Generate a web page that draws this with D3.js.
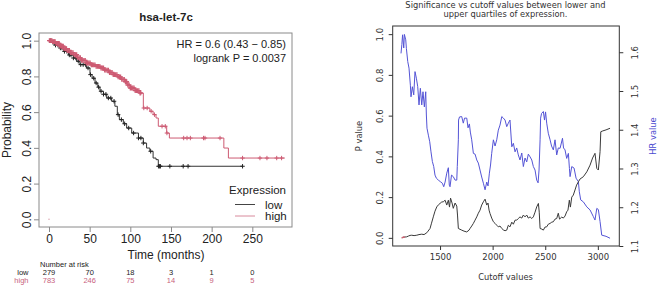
<!DOCTYPE html>
<html><head><meta charset="utf-8">
<script src="https://cdn.jsdelivr.net/npm/d3@7"></script>
<style>body{margin:0;background:#fff}svg{display:block}</style>
</head><body>
<svg id="c" width="659" height="287"></svg>
<script>
// ---------- Left panel: Kaplan-Meier ----------
const kmTitle = "hsa-let-7c";
const kmXTicks = [0, 50, 100, 150, 200, 250];
const kmYTicks = [0.0, 0.2, 0.4, 0.6, 0.8, 1.0];
const lowTime = [0,3,7,13.5,18,24,30,34,38,46,50.4,53,56.6,60,62.7,67,71,77,81,84,86.5,91.4,95.5,101.7,110,116,120,124,128,131.6,134.4,238];
const lowSurv = [1,0.99,0.975,0.959,0.94,0.92,0.903,0.885,0.866,0.847,0.81,0.79,0.763,0.74,0.717,0.70,0.679,0.661,0.633,0.586,0.558,0.535,0.511,0.483,0.455,0.427,0.399,0.381,0.343,0.334,0.297,0.297];
const highTime = [0,4,8,13.5,18,22,26,30,35,40,46,52,57,63,68,74,79,84,89,93,97,100,106,112,116,124,128,131.6,134.4,144.7,148,215,220.6,290];
const highSurv = [1,0.995,0.985,0.969,0.955,0.945,0.933,0.922,0.905,0.89,0.875,0.865,0.856,0.847,0.835,0.822,0.81,0.797,0.783,0.770,0.752,0.735,0.72,0.707,0.623,0.605,0.586,0.567,0.521,0.483,0.455,0.399,0.343,0.343];
const lowCensor = [2,5,8,11,14,16,19,22,25,27,30,33,36,39,42,45,48,51,55,58,61,64,67,70,73,76,80,85,89,93,98,104,110,113,116,125,134.6,136,137,148.6,165,171,238];
const highCensor = [0.5,1.5,2.5,3.5,4.5,5.5,6.5,7.5,8.5,9.5,10.5,11.5,12.5,13.5,14.5,15.5,16.5,17.5,18.5,19.5,20.5,21.5,22.5,23.5,25,26.5,28,29.5,31,32.5,34,35.5,37,38.5,40,41.5,43,44.5,46,47.5,49,50.5,52,53.5,55,56.5,58,59.5,61,62.5,64,65.5,67,68.5,70,71.5,73,74.5,76,77.5,79,80.5,82,83.5,85,86.5,88,89.5,91,92.5,94,95.5,97,98.5,100,101.5,103,104.5,106,107.5,109,110.5,112,113,116.6,120.7,125.6,129.7,139,143,145,165.6,169.7,173.8,190,191.8,210.3,238,259.4,268,280,286];
const hrText = ["HR = 0.6 (0.43 \u2212 0.85)", "logrank P = 0.0037"];
const legendTitle = "Expression";
const groups = ["low", "high"];
const riskLow = [279, 70, 18, 3, 1, 0];
const riskHigh = [783, 246, 75, 14, 9, 5];

// ---------- Right panel: cutoff scan ----------
const scanTitle = ["Significance vs cutoff values between lower and", "upper quartiles of expression."];
const scanXTicks = [1500, 2000, 2500, 3000];
const pTicks = [0.0, 0.2, 0.4, 0.6, 0.8, 1.0];
const hrTicks = [1.1, 1.2, 1.3, 1.4, 1.5, 1.6];
const hrCut = [1129,1137,1144,1155,1161,1174,1180,1193,1205,1218,1224,1237,1250,1262,1275,1288,1300,1313,1326,1338,1351,1364,1370,1376,1389,1402,1414,1427,1440,1452,1465,1484,1503,1522,1535,1548,1564,1579,1588,1595,1609,1626,1643,1659,1664,1674,1676,1685,1706,1721,1733,1754,1766,1779,1788,1801,1817,1833,1849,1864,1880,1896,1912,1928,1944,1956,1969,1980,1991,2007,2023,2039,2054,2070,2087,2102,2118,2134,2149,2165,2182,2197,2213,2229,2244,2260,2277,2292,2308,2324,2339,2356,2372,2387,2403,2419,2432,2441,2451,2456,2465,2482,2493,2503,2514,2529,2546,2560,2577,2593,2609,2624,2641,2664,2674,2688,2704,2720,2730,2736,2752,2774,2793,2815,2824,2837,2862,2895,2926,2957,2973,2990,3005,3021,3037,3078,3116];
const hrVal = [1.597,1.62,1.645,1.611,1.646,1.632,1.610,1.576,1.559,1.515,1.485,1.511,1.490,1.550,1.533,1.511,1.464,1.507,1.464,1.498,1.459,1.498,1.438,1.404,1.386,1.369,1.343,1.318,1.305,1.283,1.275,1.270,1.266,1.262,1.253,1.265,1.288,1.302,1.257,1.253,1.283,1.279,1.270,1.270,1.305,1.374,1.425,1.433,1.434,1.417,1.430,1.430,1.405,1.415,1.394,1.374,1.339,1.337,1.322,1.314,1.296,1.278,1.262,1.245,1.265,1.255,1.288,1.309,1.339,1.374,1.358,1.374,1.399,1.412,1.434,1.430,1.425,1.408,1.417,1.425,1.356,1.365,1.343,1.353,1.335,1.322,1.340,1.305,1.327,1.317,1.337,1.330,1.322,1.305,1.296,1.270,1.263,1.296,1.374,1.430,1.442,1.447,1.425,1.446,1.417,1.391,1.374,1.358,1.348,1.374,1.335,1.353,1.352,1.378,1.353,1.348,1.326,1.339,1.300,1.279,1.305,1.301,1.275,1.266,1.240,1.219,1.214,1.201,1.193,1.176,1.167,1.197,1.194,1.163,1.128,1.125,1.120];
const pCut = [1136,1150,1165,1183,1200,1215,1231,1253,1279,1300,1326,1348,1374,1386,1405,1419,1436,1452,1469,1486,1500,1516,1531,1548,1564,1579,1590,1600,1614,1626,1643,1659,1666,1674,1706,1728,1754,1776,1785,1801,1817,1833,1849,1864,1880,1896,1912,1928,1944,1956,1966,1975,1991,2007,2023,2039,2054,2070,2087,2102,2118,2134,2149,2165,2182,2197,2213,2229,2244,2260,2277,2292,2308,2324,2339,2356,2372,2387,2403,2419,2435,2443,2451,2467,2482,2498,2514,2529,2546,2562,2577,2593,2609,2624,2636,2657,2672,2688,2704,2716,2729,2739,2752,2767,2783,2798,2815,2831,2862,2895,2926,2950,2973,2990,3005,3021,3028,3047,3078,3116];
const pVal = [0.000,0.003,0.004,0.005,0.009,0.012,0.013,0.011,0.013,0.016,0.018,0.016,0.025,0.033,0.046,0.072,0.103,0.131,0.152,0.163,0.169,0.176,0.177,0.185,0.161,0.185,0.151,0.195,0.171,0.145,0.171,0.156,0.112,0.046,0.038,0.033,0.029,0.038,0.046,0.058,0.071,0.087,0.103,0.121,0.136,0.161,0.177,0.190,0.161,0.171,0.136,0.120,0.097,0.079,0.071,0.062,0.054,0.058,0.046,0.039,0.035,0.038,0.062,0.054,0.077,0.067,0.087,0.087,0.095,0.103,0.097,0.112,0.103,0.112,0.097,0.103,0.095,0.103,0.126,0.152,0.169,0.126,0.046,0.043,0.038,0.053,0.054,0.067,0.071,0.077,0.079,0.092,0.095,0.121,0.092,0.102,0.097,0.107,0.128,0.136,0.185,0.151,0.200,0.210,0.235,0.259,0.275,0.289,0.300,0.324,0.357,0.392,0.415,0.341,0.333,0.423,0.521,0.525,0.530,0.538];

const svg = d3.select("#c");
const LF = "'Liberation Sans', Arial, sans-serif";
const RF = "'DejaVu Sans', sans-serif";
const PINK = "#cd5a72";

// ===== Left =====
{
  const L = svg.append("g").attr("font-family", LF);
  const x = d3.scaleLinear().domain([-12.3, 298.8]).range([39, 292]);
  const y = d3.scaleLinear().domain([-0.043, 1.043]).range([227, 33]);
  L.append("rect").attr("x", 39).attr("y", 33).attr("width", 253).attr("height", 194)
    .attr("fill", "none").attr("stroke", "#8a8a8a").attr("stroke-width", 1);
  const xa = L.append("g").attr("transform", "translate(0,227)")
    .call(d3.axisBottom(x).tickValues(kmXTicks).tickSize(5).tickPadding(2).tickFormat(d3.format("d")));
  xa.select(".domain").remove();
  xa.selectAll("line").attr("stroke", "#8a8a8a");
  xa.selectAll("text").attr("font-size", 12).attr("fill", "#222").attr("font-family", LF);
  const ya = L.append("g").attr("transform", "translate(39,0)")
    .call(d3.axisLeft(y).tickValues(kmYTicks).tickSize(5).tickFormat(d3.format(".1f")));
  ya.select(".domain").remove();
  ya.selectAll("line").attr("stroke", "#8a8a8a");
  ya.selectAll("text").attr("font-size", 12).attr("fill", "#222").attr("font-family", LF)
    .attr("text-anchor", "middle").attr("x", null).attr("dy", "0.36em")
    .attr("transform", "translate(-12,0) rotate(-90)");
  L.append("text").attr("x", 166).attr("y", 21).attr("text-anchor", "middle")
    .attr("font-weight", "bold").attr("font-size", 11.5).attr("fill", "#222").text(kmTitle);
  L.append("text").attr("transform", "translate(11,130) rotate(-90)").attr("text-anchor", "middle")
    .attr("font-size", 12).attr("fill", "#222").text("Probability");
  L.append("text").attr("x", 166).attr("y", 259).attr("text-anchor", "middle")
    .attr("font-size", 12).attr("fill", "#222").text("Time (months)");

  const line = d3.line().x(d => x(d[0])).y(d => y(d[1])).curve(d3.curveStepAfter);
  const lowPts = lowTime.map((t, i) => [t, lowSurv[i]]);
  const highPts = highTime.map((t, i) => [t, highSurv[i]]);
  const survAt = (T, S, t) => { let s = S[0]; for (let i = 0; i < T.length; i++) { if (T[i] <= t) s = S[i]; } return s; };

  L.append("path").attr("d", line(lowPts)).attr("fill", "none").attr("stroke", "#333").attr("stroke-width", 1);
  L.append("path").attr("d", line(highPts)).attr("fill", "none").attr("stroke", PINK).attr("stroke-width", 1);
  const mark = (g, t, s, col, h, w) => {
    const cx = x(t), cy = y(s);
    g.append("path").attr("d", `M${cx-h},${cy}H${cx+h}M${cx},${cy-h}V${cy+h}`)
      .attr("stroke", col).attr("stroke-width", w).attr("fill", "none");
  };
  lowCensor.forEach(t => mark(L, t, survAt(lowTime, lowSurv, t), "#222", 2.2, 1));
  highCensor.forEach(t => mark(L, t, survAt(highTime, highSurv, t), PINK, t < 113 ? 2.4 : 2.2, t < 113 ? 1.3 : 1));
  L.append("circle").attr("cx", x(0)).attr("cy", y(0)).attr("r", 0.7).attr("fill", "#d89aa8");

  L.selectAll(".hr").data(hrText).join("text").attr("x", 286).attr("y", (d, i) => 48 + i * 13.5)
    .attr("text-anchor", "end").attr("font-size", 11).attr("fill", "#222").text(d => d);
  L.append("text").attr("x", 286).attr("y", 194).attr("text-anchor", "end").attr("font-size", 11.5).attr("fill", "#222").text(legendTitle);
  const legCols = ["#444", "#d88a9c"];
  groups.forEach((g, i) => {
    const yy = 204.5 + i * 11.5;
    L.append("line").attr("x1", 235).attr("x2", 255).attr("y1", yy).attr("y2", yy).attr("stroke", legCols[i]).attr("stroke-width", 1);
    L.append("text").attr("x", 265).attr("y", yy + 4).attr("font-size", 11.5).attr("fill", "#222").text(g);
  });
  // risk table
  L.append("text").attr("x", 40).attr("y", 267).attr("font-size", 7.5).attr("fill", "#222").text("Number at risk");
  const rows = [[groups[0], riskLow, "#222"], [groups[1], riskHigh, "#c8627e"]];
  rows.forEach((r, i) => {
    const yy = 275.3 + i * 8;
    L.append("text").attr("x", 28.5).attr("y", yy).attr("text-anchor", "end").attr("font-size", 7.5).attr("fill", r[2]).text(r[0]);
    r[1].forEach((v, j) => L.append("text").attr("x", x(kmXTicks[j])).attr("y", yy).attr("text-anchor", "middle")
      .attr("font-size", 7.5).attr("fill", r[2]).text(v));
  });
}

// ===== Right =====
{
  const R = svg.append("g").attr("font-family", RF);
  const x = d3.scaleLinear().domain([1050, 3204]).range([392.7, 619.3]);
  const yp = d3.scaleLinear().domain([-0.04, 1.04]).range([246, 26]);
  const yh = d3.scaleLinear().domain([1.1, 1.6677]).range([246, 26]);
  R.append("rect").attr("x", 392.7).attr("y", 26).attr("width", 226.6).attr("height", 220)
    .attr("fill", "none").attr("stroke", "#333").attr("stroke-width", 1);
  const xa = R.append("g").attr("transform", "translate(0,246)")
    .call(d3.axisBottom(x).tickValues(scanXTicks).tickSize(4).tickPadding(4).tickFormat(d3.format("d")));
  xa.select(".domain").remove();
  xa.selectAll("line").attr("stroke", "#333");
  xa.selectAll("text").attr("font-size", 8.5).attr("fill", "#333").attr("font-family", RF);
  const ya = R.append("g").attr("transform", "translate(392.7,0)")
    .call(d3.axisLeft(yp).tickValues(pTicks).tickSize(4).tickFormat(d3.format(".1f")));
  ya.select(".domain").remove();
  ya.selectAll("line").attr("stroke", "#333");
  ya.selectAll("text").attr("font-size", 8.5).attr("fill", "#333").attr("font-family", RF)
    .attr("text-anchor", "middle").attr("x", null).attr("dy", "0.36em")
    .attr("transform", "translate(-13,0) rotate(-90)");
  const ha = R.append("g").attr("transform", "translate(619.3,0)")
    .call(d3.axisRight(yh).tickValues(hrTicks).tickSize(4).tickFormat(d3.format(".1f")));
  ha.select(".domain").remove();
  ha.selectAll("line").attr("stroke", "#333");
  ha.selectAll("text").attr("font-size", 8.5).attr("fill", "#333").attr("font-family", RF)
    .attr("text-anchor", "middle").attr("x", null).attr("dy", "0.36em")
    .attr("transform", "translate(15.5,0) rotate(-90)");

  R.selectAll(".tt").data(scanTitle).join("text").attr("x", 505.5).attr("y", (d, i) => 7.5 + i * 9.3)
    .attr("text-anchor", "middle").attr("font-size", 8.3).attr("fill", "#333").text(d => d);
  R.append("text").attr("x", 505.5).attr("y", 279.5).attr("text-anchor", "middle").attr("font-size", 8.3).attr("fill", "#333").text("Cutoff values");
  R.append("text").attr("transform", "translate(362,136) rotate(-90)").attr("text-anchor", "middle").attr("font-size", 8.3).attr("fill", "#333").text("P value");
  R.append("text").attr("transform", "translate(656,136) rotate(-90)").attr("text-anchor", "middle").attr("font-size", 8.3).attr("fill", "#4a4ad0").text("HR value");

  const lp = d3.line().x(d => x(d[0])).y(d => yp(d[1]));
  const lh = d3.line().x(d => x(d[0])).y(d => yh(d[1]));
  R.append("path").attr("d", lh(hrCut.map((c, i) => [c, hrVal[i]]))).attr("fill", "none").attr("stroke", "#5454d6").attr("stroke-width", 1);
  R.append("path").attr("d", lp(pCut.map((c, i) => [c, pVal[i]]))).attr("fill", "none").attr("stroke", "#3a3a3a").attr("stroke-width", 1);
  R.append("path").attr("d", lp(pCut.slice(0, 3).map((c, i) => [c, pVal[i]]))).attr("fill", "none").attr("stroke", "#d06070").attr("stroke-width", 1.4);
}
</script>
</body></html>
